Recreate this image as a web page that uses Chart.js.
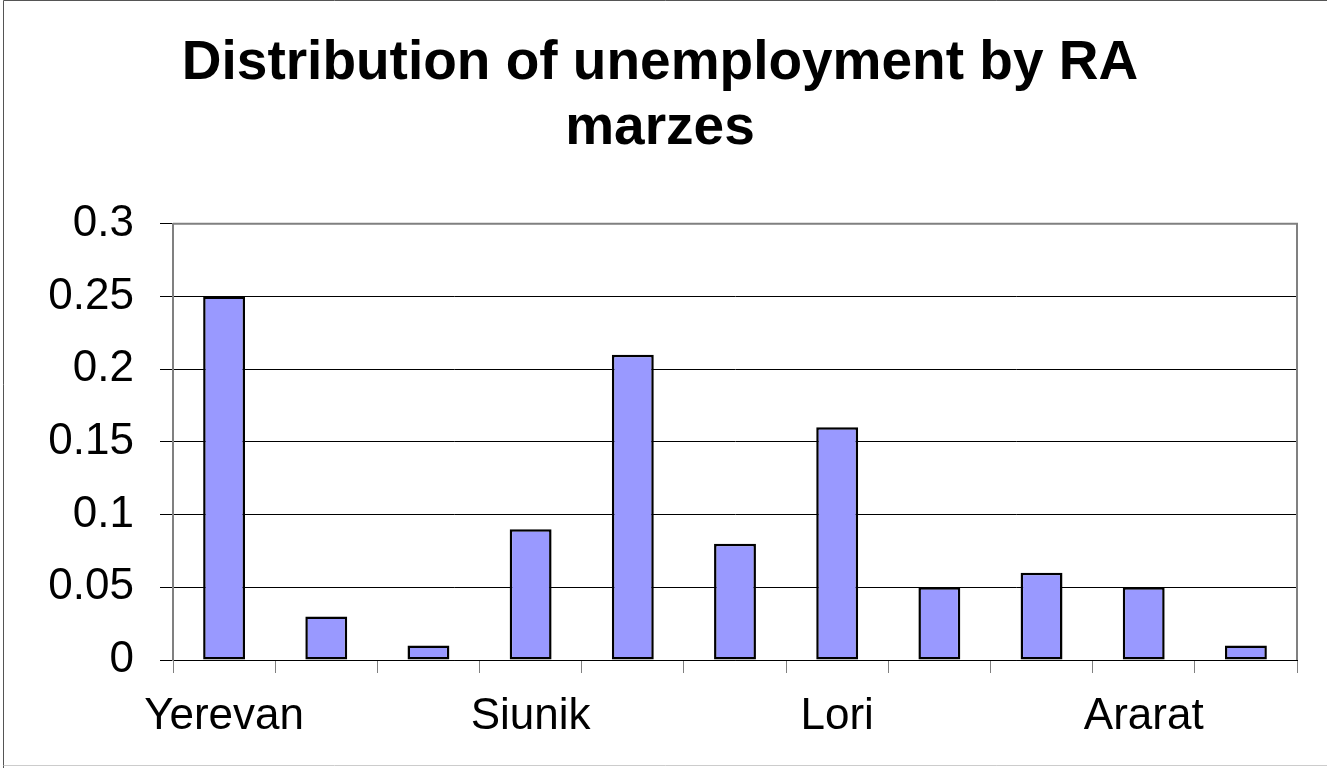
<!DOCTYPE html>
<html>
<head>
<meta charset="utf-8">
<script src="https://cdn.jsdelivr.net/npm/chart.js@4.4.1/dist/chart.umd.min.js"></script>
<style>
  html, body { margin: 0; padding: 0; background: #fff; }
  #wrap { width: 1327px; height: 768px; }
</style>
</head>
<body>
<div id="wrap"><canvas id="myChart"></canvas></div>
<script>
// categories (only every third label is printed in the original)
var marzes = ['Yerevan', '', '', 'Siunik', '', '', 'Lori', '', '', 'Ararat', ''];
var shares = [0.25, 0.03, 0.01, 0.09, 0.21, 0.08, 0.16, 0.05, 0.06, 0.05, 0.01];
var yTicks = [0, 0.05, 0.1, 0.15, 0.2, 0.25, 0.3];

var FONT = "'Liberation Sans', Arial, sans-serif";

// grey plot frame + outer chart border
var frame = {
  id: 'frame',
  afterDatasetsDraw: function (chart) {
    var a = chart.chartArea, c = chart.ctx;
    c.save();
    c.strokeStyle = '#808080';
    c.lineWidth = 2;
    c.beginPath();
    c.moveTo(a.left, a.top);
    c.lineTo(a.right, a.top);
    c.lineTo(a.right, a.bottom);
    c.stroke();
    c.restore();
  },
  afterDraw: function (chart) {
    var c = chart.ctx;
    c.save();
    c.strokeStyle = '#555';
    c.lineWidth = 1;
    c.beginPath();
    c.moveTo(3.5, 768);
    c.lineTo(3.5, 0.5);
    c.lineTo(1327, 0.5);
    c.stroke();
    c.strokeStyle = '#ccc';
    c.beginPath();
    c.moveTo(3.5, 765.5);
    c.lineTo(1327, 765.5);
    c.stroke();
    c.restore();
  }
};

var ctx = document.getElementById('myChart').getContext('2d');
var myChart = new Chart(ctx, {
  type: 'bar',
  data: {
    labels: marzes,
    datasets: [{
      label: 'share',
      data: shares,
      backgroundColor: '#9999FF',
      borderColor: '#000000',
      borderWidth: 2.5,
      borderSkipped: false,
      categoryPercentage: 1,
      barPercentage: 0.41
    }]
  },
  options: {
    responsive: true,
    maintainAspectRatio: false,
    animation: false,
    layout: { padding: { left: 23, right: 30, top: 0, bottom: 0 } },
    plugins: {
      legend: { display: false },
      tooltip: { enabled: false },
      title: {
        display: true,
        text: ['Distribution of unemployment by RA', 'marzes'],
        color: '#000',
        font: { family: FONT, size: 55, weight: 'bold', lineHeight: 1.18 },
        padding: { top: 31, bottom: 63 }
      }
    },
    scales: {
      x: {
        offset: true,
        grid: {
          offset: true,
          drawOnChartArea: false,
          drawTicks: true,
          tickLength: 13,
          tickColor: '#808080',
          tickWidth: 1
        },
        border: { color: '#000', width: 1 },
        ticks: {
          autoSkip: false,
          maxRotation: 0,
          color: '#000',
          padding: 17,
          font: { family: FONT, size: 44 }
        },
        afterFit: function (s) { s.height = 108; }
      },
      y: {
        min: 0,
        max: 0.3,
        afterBuildTicks: function (s) {
          s.ticks = yTicks.map(function (v) { return { value: v }; });
        },
        grid: {
          color: '#000',
          lineWidth: 1,
          drawTicks: true,
          tickLength: 13,
          tickColor: '#000'
        },
        border: { color: '#808080', width: 2 },
        ticks: {
          color: '#000',
          padding: 26,
          font: { family: FONT, size: 44 },
          callback: function (v) { return String(v); }
        },
        afterFit: function (s) { s.width = 150; }
      }
    }
  },
  plugins: [frame]
});
</script>
</body>
</html>
